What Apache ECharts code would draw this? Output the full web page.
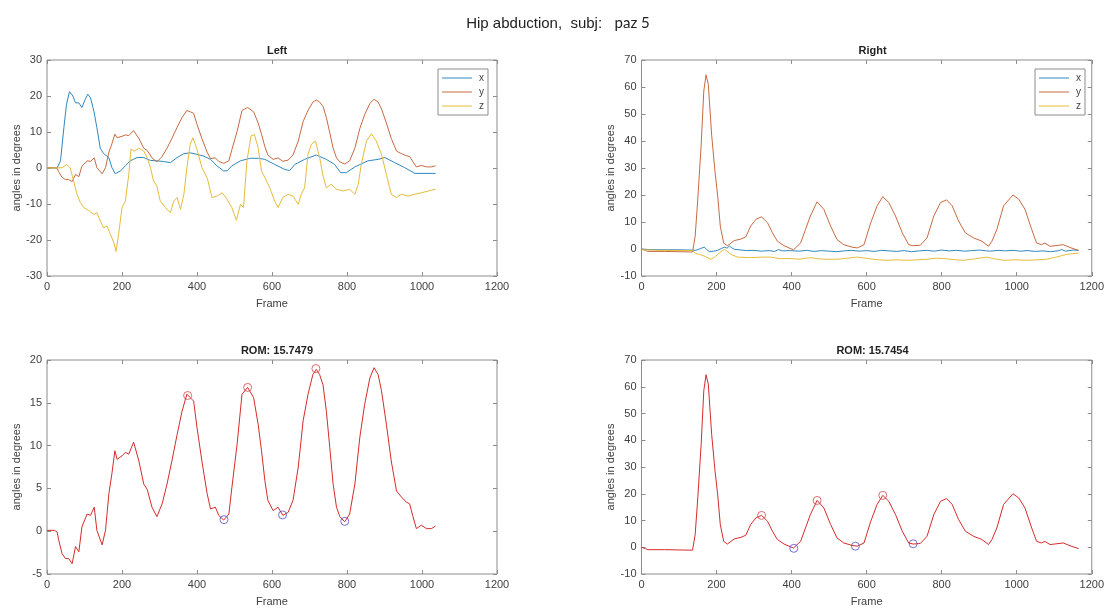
<!DOCTYPE html>
<html>
<head>
<meta charset="utf-8">
<script src="https://cdn.jsdelivr.net/npm/echarts@6/dist/echarts.min.js"></script>
<style>html,body{margin:0;padding:0;background:#fff;}#c{width:1107px;height:610px;}</style>
</head>
<body>
<div id="c"></div>
<script>
// ---- data (frame, angle in degrees) ----
const leftX = [[0,0],[27,0],[36,2.0],[45,11.2],[52,17.7],[60,21.2],[69,20.0],[76,18.1],[85,18.1],[93,16.8],[102,19.1],[109,20.5],[116,19.5],[125,15.8],[133,11.2],[142,5.5],[151,4.0],[165,2.9],[173,0.1],[182,-1.6],[196,-0.8],[209,0.6],[222,2.0],[240,2.9],[258,2.9],[276,2.1],[293,2.0],[311,1.8],[329,1.5],[347,2.9],[365,4.0],[382,4.2],[400,3.8],[418,3.3],[436,2.4],[453,0.6],[471,-0.8],[480,-0.8],[493,0.6],[516,2.0],[542,2.7],[564,2.7],[581,2.4],[607,1.0],[634,-0.4],[647,-0.7],[661,1.0],[687,2.4],[718,3.6],[745,2.4],[767,1.0],[783,-1.3],[798,-1.3],[821,0.3],[856,2.0],[883,2.4],[901,2.9],[927,1.5],[954,0.1],[981,-1.5],[1036,-1.5]];
const leftY = [[0,0.1],[20,0.1],[27,-0.1],[31,-1.0],[40,-2.6],[49,-3.2],[58,-3.2],[67,-3.8],[76,-1.8],[85,-2.4],[93,0.5],[107,2.0],[116,1.85],[126,2.8],[133,0.1],[147,-1.6],[156,0.1],[165,4.4],[173,6.7],[181,9.4],[187,8.4],[200,8.8],[209,9.2],[218,9.0],[231,10.4],[245,8.2],[258,5.5],[267,4.9],[280,2.8],[293,1.7],[307,3.2],[320,5.5],[333,8.2],[347,11.3],[360,14.0],[373,16.0],[382,15.6],[391,15.2],[400,12.1],[413,8.2],[427,4.4],[436,2.6],[449,2.8],[458,1.85],[471,1.3],[485,2.0],[493,5.1],[507,10.2],[520,16.0],[535,16.8],[551,15.6],[563,12.5],[572,9.4],[581,5.9],[589,3.6],[603,2.4],[616,2.8],[629,1.85],[643,2.2],[656,3.6],[670,7.5],[683,12.9],[696,16.0],[709,18.3],[718,18.9],[727,18.3],[736,17.1],[745,14.0],[754,9.8],[763,5.5],[772,2.8],[781,1.7],[794,1.1],[807,2.0],[821,5.5],[834,10.9],[847,14.8],[861,17.9],[872,19.1],[883,18.3],[892,16.4],[905,12.5],[918,8.2],[932,4.7],[945,4.0],[958,3.4],[967,3.2],[976,1.7],[985,0.3],[998,0.7],[1012,0.3],[1025,0.3],[1036,0.6]];
const leftZ = [[0,0],[27,0],[40,0.1],[53,1.0],[62,0],[71,-3.6],[80,-7.3],[89,-9.6],[98,-11.0],[111,-11.8],[125,-12.9],[133,-12.4],[142,-14.7],[151,-16.6],[160,-16.1],[169,-18.4],[178,-20.7],[184,-23.2],[191,-18.4],[200,-11.0],[209,-9.2],[218,-1.8],[224,5.2],[233,4.7],[245,5.5],[258,4.7],[267,2.9],[276,0.1],[284,-3.6],[293,-5.0],[302,-9.2],[316,-11.0],[329,-12.4],[338,-9.2],[347,-8.2],[356,-11.5],[365,-7.3],[373,0.1],[382,6.6],[389,8.4],[400,5.2],[413,0.1],[427,-2.7],[440,-8.2],[453,-7.8],[467,-6.9],[480,-8.7],[493,-11.0],[505,-14.5],[516,-10.1],[524,-11.0],[533,1.9],[544,8.9],[553,9.3],[563,5.6],[572,-0.8],[581,-2.7],[594,-5.5],[607,-9.2],[616,-11.0],[629,-8.2],[643,-7.3],[656,-7.8],[670,-10.1],[678,-7.3],[687,-5.5],[696,3.8],[705,6.6],[716,7.5],[727,2.9],[736,-2.2],[745,-5.5],[758,-4.5],[772,-5.9],[789,-6.4],[807,-5.9],[821,-7.3],[830,-4.5],[838,1.0],[852,7.5],[865,9.5],[878,7.5],[892,3.8],[905,-1.8],[918,-7.3],[932,-8.2],[945,-7.3],[963,-7.8],[981,-7.3],[998,-6.9],[1016,-6.4],[1036,-5.9]];

const rightX = [[0,0],[20,-0.2],[60,-0.3],[100,-0.3],[136,-0.4],[145,-0.5],[158,0.2],[167,0.7],[174,-0.2],[181,-1.0],[192,-0.8],[203,-0.5],[213,0.2],[221,0.7],[228,0.3],[234,1.1],[240,0.5],[247,-0.1],[260,-0.3],[280,-0.6],[300,-0.5],[320,-0.8],[340,-0.6],[355,-0.9],[365,-0.2],[375,-0.7],[395,-0.6],[420,-0.8],[440,-0.5],[460,-0.9],[480,-0.6],[500,-0.8],[520,-1.0],[540,-0.7],[560,-0.5],[580,-0.8],[600,-0.6],[620,-0.9],[640,-0.5],[660,-0.7],[680,-0.9],[700,-0.6],[720,-1.0],[740,-0.7],[760,-0.5],[780,-0.8],[800,-0.4],[820,-0.7],[840,-0.5],[860,-0.8],[880,-0.6],[900,-0.4],[920,-0.7],[925,0.0],[930,-0.8],[950,-0.5],[970,-0.7],[990,-0.5],[1010,-0.8],[1030,-0.6],[1050,-0.9],[1070,-0.7],[1090,-1.0],[1110,-0.7],[1120,-0.2],[1130,-0.8],[1150,-0.4],[1165,-0.5]];
const rightY = [[0,0],[10,-0.5],[17,-0.9],[61,-0.9],[97,-1.0],[136,-1.1],[143,4.7],[150,18.5],[159,38.5],[166,58.5],[172,64.5],[178,61],[187,42.2],[196,28.5],[203,19.7],[210,8.5],[219,2.2],[229,1.2],[247,3.1],[265,3.7],[278,4.5],[291,8.5],[305,11.0],[320,11.9],[336,9.7],[349,6.0],[362,2.9],[380,1.2],[405,-0.3],[424,2.2],[437,7.2],[450,12.2],[468,17.5],[486,14.7],[504,8.5],[521,3.5],[539,1.6],[561,0.7],[575,0.4],[593,1.6],[611,9.7],[628,16],[643,19.4],[659,17.2],[677,12.2],[695,6.0],[712,1.6],[724,1.2],[743,1.4],[761,4.1],[779,12.2],[797,17.2],[813,18.2],[828,16],[845,10.4],[863,6.0],[885,4.1],[907,2.9],[925,1.0],[934,2.9],[947,7.2],[965,16],[990,20],[1005,18.5],[1022,14.7],[1040,7.2],[1053,2.2],[1066,1.6],[1075,2.2],[1089,1.0],[1124,1.6],[1145,0.4],[1165,-0.5]];
const rightZ = [[0,-0.3],[60,-0.5],[136,-0.6],[145,-1.7],[155,-2.0],[167,-2.6],[185,-3.8],[195,-3.0],[203,-2.0],[212,-1.0],[221,-0.1],[230,-1.0],[238,-2.0],[256,-3.0],[291,-3.2],[320,-3.0],[344,-3.0],[370,-3.6],[398,-3.5],[420,-3.8],[450,-3.2],[470,-3.6],[486,-3.8],[521,-3.8],[550,-3.4],[575,-3.0],[602,-3.5],[630,-4.0],[655,-4.2],[680,-4.0],[708,-4.2],[735,-4.0],[761,-3.8],[785,-3.4],[805,-3.5],[830,-3.9],[858,-4.2],[890,-3.6],[920,-3.0],[940,-3.6],[965,-4.2],[995,-4.0],[1027,-4.2],[1055,-4.0],[1080,-3.8],[1105,-3.0],[1133,-2.0],[1165,-1.5]];

const leftPeaks = [[375,15.85],[535,16.8],[717,19.0]];
const leftValleys = [[472,1.35],[628,1.9],[794,1.15]];
const rightPeaks = [[320,11.9],[468,17.5],[643,19.4]];
const rightValleys = [[406,-0.4],[570,0.4],[724,1.3]];

const seriesNames = ['x','y','z'];
const xTicks = {min:0, max:1200, interval:200};
const yTicksTL = {min:-30, max:30, interval:10};
const yTicksTR = {min:-10, max:70, interval:10};
const yTicksBL = {min:-5, max:20, interval:5};
const yTicksBR = {min:-10, max:70, interval:10};
const mainTitle = 'Hip abduction,  subj:   ';
const subjName = 'paz 5';
const panelTitles = ['Left','Right','ROM: 15.7479','ROM: 15.7454'];
const xLabel = 'Frame';
const yLabel = 'angles in degrees';

// ---- styling ----
const C = {x:'#3088c0', y:'#c86a40', z:'#e6bc3c', rom:'#d42c2c', peak:'#d04848', valley:'#5050c0'};
const boxColor = '#8c8c8c';
const txtColor = '#404040';
const FONT = 'Liberation Sans, Arial, sans-serif';

const grids = [
  {left:47, top:60, width:450, height:216},
  {left:641.5, top:60, width:452, height:216},
  {left:47, top:360, width:450, height:214},
  {left:641.5, top:360, width:452, height:214}
].map(g => Object.assign({show:true, borderColor:boxColor, borderWidth:1, backgroundColor:'#fff'}, g));

const tick = {show:true, inside:true, length:4, lineStyle:{color:boxColor}};
const fmt = v => String(v);
const yTicks = [yTicksTL, yTicksTR, yTicksBL, yTicksBR];
const xAxes = [], yAxes = [];
for (let i = 0; i < 4; i++) {
  xAxes.push({type:'value', gridIndex:i, position:'bottom', min:xTicks.min, max:xTicks.max, interval:xTicks.interval,
    name:xLabel, nameLocation:'middle', nameGap:22,
    nameTextStyle:{fontFamily:FONT, fontSize:11, color:txtColor},
    axisLine:{show:false, onZero:false}, splitLine:{show:false}, axisTick:tick,
    axisLabel:{fontFamily:FONT, fontSize:11, color:txtColor, margin:5, formatter:fmt}});
  xAxes.push({type:'value', gridIndex:i, position:'top', min:xTicks.min, max:xTicks.max, interval:xTicks.interval,
    axisLine:{show:false, onZero:false}, splitLine:{show:false}, axisLabel:{show:false}, axisTick:tick});
  const yt = yTicks[i];
  yAxes.push({type:'value', gridIndex:i, position:'left', min:yt.min, max:yt.max, interval:yt.interval,
    name:yLabel, nameLocation:'middle', nameGap:25,
    nameTextStyle:{fontFamily:FONT, fontSize:11, color:txtColor},
    axisLine:{show:false, onZero:false}, splitLine:{show:false}, axisTick:tick,
    axisLabel:{fontFamily:FONT, fontSize:11, color:txtColor, margin:5, formatter:fmt}});
  yAxes.push({type:'value', gridIndex:i, position:'right', min:yt.min, max:yt.max, interval:yt.interval,
    axisLine:{show:false, onZero:false}, splitLine:{show:false}, axisLabel:{show:false}, axisTick:tick});
}

function line(name, data, color, gi) {
  return {type:'line', name:name, data:data, xAxisIndex:gi*2, yAxisIndex:gi*2, showSymbol:false,
    symbol:'none', lineStyle:{width:1, color:color}, itemStyle:{color:color}, animation:false, silent:true};
}
function marks(data, color, gi) {
  return {type:'scatter', data:data, xAxisIndex:gi*2, yAxisIndex:gi*2, symbol:'circle', symbolSize:8,
    itemStyle:{color:'rgba(255,255,255,0)', borderColor:color, borderWidth:1}, animation:false, silent:true, z:5};
}

const series = [
  line(seriesNames[0], leftX, C.x, 0), line(seriesNames[1], leftY, C.y, 0), line(seriesNames[2], leftZ, C.z, 0),
  line(seriesNames[0], rightX, C.x, 1), line(seriesNames[1], rightY, C.y, 1), line(seriesNames[2], rightZ, C.z, 1),
  line('romL', leftY, C.rom, 2), marks(leftPeaks, C.peak, 2), marks(leftValleys, C.valley, 2),
  line('romR', rightY, C.rom, 3), marks(rightPeaks, C.peak, 3), marks(rightValleys, C.valley, 3)
];

function legendAt(left, top) {
  return {show:true, data:seriesNames, left:left, top:top, orient:'vertical', icon:'rect',
    itemWidth:30, itemHeight:1, itemGap:4, padding:[4,4,4,4], borderColor:boxColor, borderWidth:1,
    backgroundColor:'#fff', selectedMode:false,
    textStyle:{fontFamily:FONT, fontSize:10, color:txtColor, padding:[0,0,0,2]}};
}

const titles = [
  {text:'{a|' + mainTitle + '}{b|' + subjName + '}', left:553, top:11, textAlign:'center',
   textStyle:{fontWeight:'normal', rich:{a:{fontFamily:FONT, fontSize:15, fontWeight:'normal', color:'#222'},
     b:{fontFamily:'Lato, Open Sans, sans-serif', fontSize:15, fontWeight:'normal', color:'#222'}}}}
];
grids.forEach((g, i) => {
  titles.push({text:panelTitles[i], left:g.left + g.width/2, top:g.top - 20, textAlign:'center',
    textStyle:{fontFamily:FONT, fontSize:11, fontWeight:'bold', color:'#222'}});
});

const chart = echarts.init(document.getElementById('c'), null, {renderer:'canvas'});
chart.setOption({
  animation:false,
  backgroundColor:'#fff',
  title:titles,
  legend:[legendAt(438, 69), legendAt(1035, 69)],
  grid:grids,
  xAxis:xAxes,
  yAxis:yAxes,
  series:series
});
</script>
</body>
</html>
